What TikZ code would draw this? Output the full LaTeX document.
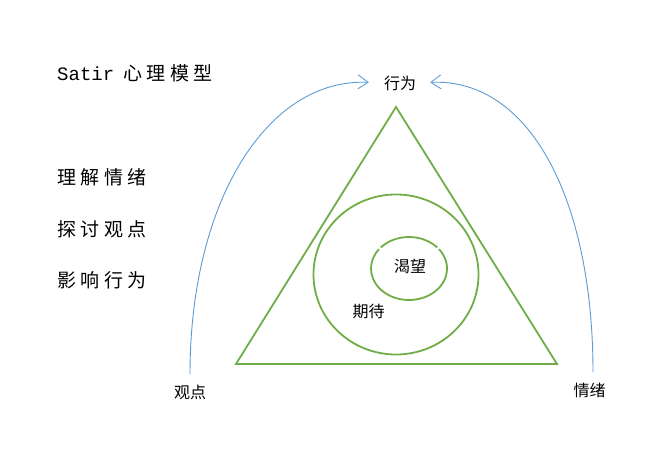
\documentclass[tikz,border=0pt]{standalone}
\usepackage{fontspec}
\usetikzlibrary{arrows.meta}
\newfontfamily\cjk{Noto Sans CJK SC}
\newfontfamily\cjkwide[LetterSpace=24]{Noto Sans CJK SC}
\newfontfamily\monolat{Liberation Mono}
\definecolor{tgreen}{HTML}{70AD47}
\definecolor{tblue}{HTML}{5B9BD5}
\tikzset{
  shapeline/.style={draw=tgreen, line width=1.8pt},
  flowarrow/.style={draw=tblue, line width=0.9pt, -{Straight Barb[length=10pt,width=14pt,line width=0.9pt]}},
  lbl/.style={inner sep=0pt, font=\cjk\fontsize{16}{18}\selectfont, text=black},
  side/.style={inner sep=0pt, anchor=west, font=\cjkwide\fontsize{19}{22}\selectfont, text=black},
}
\begin{document}
\begin{tikzpicture}[x=1pt, y=-1pt]
\useasboundingbox (0,0) rectangle (655,454);
% titles
\node[side] (title) at (57,73) {{\monolat\fontsize{19}{22}\selectfont Satir} 心理模型};
\node[side] (t1) at (57,177) {理解情绪};
\node[side] (t2) at (57,229) {探讨观点};
\node[side] (t3) at (57,280) {影响行为};
% triangle and circles
\draw[shapeline, line join=miter] (396,107) -- (557,364) -- (236,364) -- cycle;
\draw[shapeline] (396,274.5) circle[x radius=82.5, y radius=80];
\draw[shapeline] (409,268.5) ++(-38:38 and 31.5) arc[start angle=-38, end angle=218, x radius=38, y radius=31.5];
\draw[shapeline] (409,268.5) ++(-138:38 and 31.5) arc[start angle=-138, end angle=-42, x radius=38, y radius=31.5];
% labels
\node[lbl] (xingwei) at (400,83) {行为};
\node[lbl] (kewang) at (410,266) {渴望};
\node[lbl] (qidai) at (368.5,311) {期待};
\node[lbl] (guandian) at (190,392) {观点};
\node[lbl] (qingxu) at (589.5,390) {情绪};
% arrows
\draw[flowarrow, shorten <=10pt, shorten >=15pt] (guandian.north) .. controls (190,200) and (268,78) .. (xingwei.west);
\draw[flowarrow, shorten <=10pt, shorten >=14pt] ([xshift=3.5pt]qingxu.north) .. controls (593,200) and (530,78) .. (xingwei.east);
\end{tikzpicture}
\end{document}
